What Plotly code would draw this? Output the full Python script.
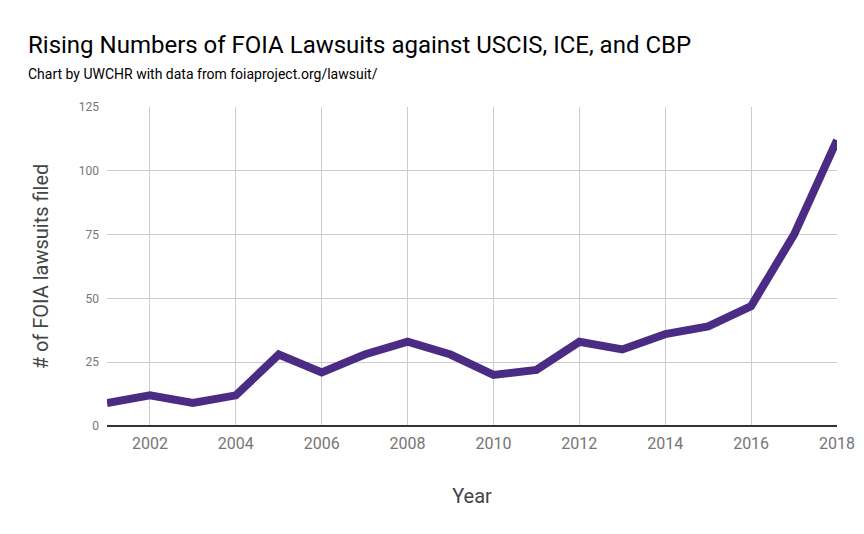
import plotly.graph_objects as go

# данные: количество исков FOIA по годам
years = list(range(2001, 2019))
lawsuits = [9, 12, 9, 12, 28, 21, 28, 33, 28, 20, 22, 33, 30, 36, 39, 47, 75, 112]

x_ticks = [2002, 2004, 2006, 2008, 2010, 2012, 2014, 2016, 2018]
y_ticks = [0, 25, 50, 75, 100, 125]

fig = go.Figure(go.Scatter(
    x=years,
    y=lawsuits,
    mode='lines',
    line=dict(color='#4b2c84', width=8),
    hoverinfo='x+y',
    cliponaxis=False,
))

fig.update_layout(
    width=864,
    height=534,
    paper_bgcolor='white',
    plot_bgcolor='white',
    font=dict(family='Roboto', color='#222'),
    margin=dict(l=107, r=27, t=107, b=108),
    showlegend=False,
    annotations=[
        dict(text='Rising Numbers of FOIA Lawsuits against USCIS, ICE, and CBP',
             xref='paper', yref='paper', x=-0.111, y=1.194,
             xanchor='left', yanchor='middle', showarrow=False,
             font=dict(size=24, color='#000', family='Roboto')),
        dict(text='Chart by UWCHR with data from foiaproject.org/lawsuit/',
             xref='paper', yref='paper', x=-0.111, y=1.105,
             xanchor='left', yanchor='middle', showarrow=False,
             font=dict(size=14, color='#000', family='Roboto')),
    ],
)

fig.update_xaxes(
    range=[2001, 2018],
    tickvals=x_ticks,
    ticktext=[str(t) for t in x_ticks],
    automargin=False,
    showgrid=True,
    gridcolor='#cccccc',
    gridwidth=1,
    zeroline=False,
    showline=False,
    ticks='',
    ticklabelstandoff=6,
    tickfont=dict(size=16, color='#757575'),
    title=dict(text='Year', font=dict(size=20, color='#444'), standoff=36),
)

fig.update_yaxes(
    range=[0, 125],
    tickvals=y_ticks,
    automargin=False,
    showgrid=True,
    gridcolor='#cccccc',
    gridwidth=1,
    zeroline=True,
    zerolinecolor='#333333',
    zerolinewidth=1.5,
    showline=False,
    ticks='',
    ticklabelstandoff=7,
    tickfont=dict(size=12, color='#757575'),
    title=dict(text='# of FOIA lawsuits filed', font=dict(size=20, color='#444'), standoff=24),
)

# убираем отступ body, чтобы график занимал всё окно
fig.write_html("out.html", config={'displayModeBar': False},
               post_script="document.body.style.margin='0';")
